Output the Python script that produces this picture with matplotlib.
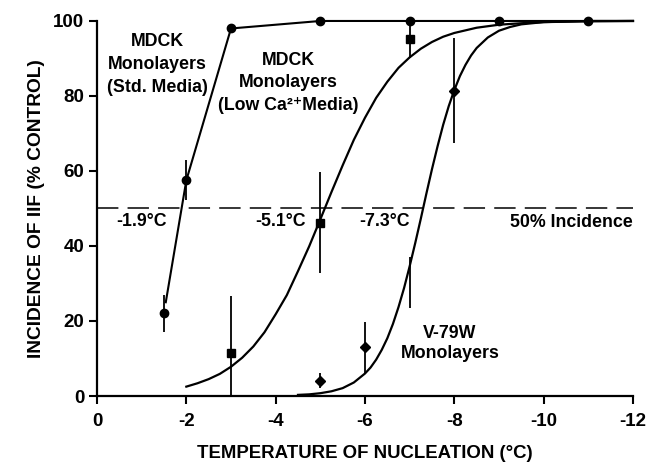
import numpy as np
import matplotlib
matplotlib.use("Agg")
import matplotlib.pyplot as plt

plt.rcParams['font.family'] = ['Liberation Sans', 'DejaVu Sans']
plt.rcParams['font.weight'] = 'bold'
plt.rcParams['axes.labelweight'] = 'bold'
plt.rcParams['axes.unicode_minus'] = False

# MDCK monolayers, standard media (circles)
std_x = [-1.5, -2, -3, -5, -7, -9, -11]
std_y = [22, 57.5, 98, 100, 100, 100, 100]
std_lo = [17, 52.3, 98, 100, 100, 100, 100]
std_hi = [27, 62.9, 98, 100, 100, 100, 100]
std_line_x = [-1.54, -2, -3, -5, -12]
std_line_y = [25, 57.5, 98, 100, 100]

# MDCK monolayers, low Ca2+ media (squares)
lowca_x = [-3, -5, -7]
lowca_y = [11.6, 46.2, 95.1]
lowca_lo = [0, 32.7, 90.1]
lowca_hi = [26.7, 59.8, 100]
lowca_curve_x = [-2, -2.25, -2.5, -2.75, -3, -3.25, -3.5, -3.75, -4, -4.25,
                 -4.5, -4.75, -5, -5.25, -5.5, -5.75, -6, -6.25, -6.5, -6.75,
                 -7, -7.25, -7.5, -7.75, -8, -8.5, -9, -9.5, -10, -10.5, -11,
                 -11.5, -12]
lowca_curve_y = [2.5, 3.4, 4.5, 5.9, 7.8, 10.2, 13.2, 17.0, 21.8, 26.9,
                 33.3, 39.9, 47.1, 54.4, 61.5, 68.3, 74.2, 79.5, 83.8, 87.5,
                 90.3, 92.6, 94.4, 95.8, 96.8, 98.2, 99.0, 99.4, 99.7, 99.8,
                 99.9, 99.95, 100]

# V-79W monolayers (diamonds); the -7 point shows only its error bar
v79_x = [-5, -6, -8]
v79_y = [4.0, 13.2, 81.4]
v79_bar_x = [-5, -6, -7, -8]
v79_lo = [2.1, 6.0, 23.5, 67.4]
v79_hi = [6.1, 19.8, 37, 95.4]
v79_curve_x = [-4.5, -4.75, -5, -5.25, -5.5, -5.75, -6, -6.125, -6.25, -6.375,
               -6.5, -6.625, -6.75, -6.875, -7, -7.125, -7.25, -7.375, -7.5,
               -7.625, -7.75, -7.875, -8, -8.125, -8.25, -8.375, -8.5, -8.75,
               -9, -9.25, -9.5, -10, -11, -12]
v79_curve_y = [0.3, 0.44, 0.75, 1.26, 2.1, 3.6, 6.0, 7.6, 9.7, 12.3,
               15.4, 19.2, 23.7, 28.8, 34.6, 40.8, 47.3, 54.0, 60.5,
               66.6, 72.3, 77.3, 81.6, 85.3, 88.3, 90.8, 92.8, 95.6,
               97.4, 98.4, 99.1, 99.7, 100, 100]

x_ticks = [0, -2, -4, -6, -8, -10, -12]
y_ticks = [0, 20, 40, 60, 80, 100]

fig = plt.figure(figsize=(6.58, 4.66), dpi=100)
ax = fig.add_axes([0.1474, 0.1502, 0.8146, 0.8048])

ax.axhline(50, color='black', lw=1.1, dashes=(14, 6))

ax.plot(std_line_x, std_line_y, color='black', lw=1.5, clip_on=False)
ax.plot(lowca_curve_x, lowca_curve_y, color='black', lw=1.6, clip_on=False)
ax.plot(v79_curve_x, v79_curve_y, color='black', lw=1.6, clip_on=False)

ax.vlines(std_x, std_lo, std_hi, color='black', lw=1.3)
ax.vlines(lowca_x, lowca_lo, lowca_hi, color='black', lw=1.3)
ax.vlines(v79_bar_x, v79_lo, v79_hi, color='black', lw=1.3)

ax.plot(std_x, std_y, 'o', color='black', ms=6, clip_on=False)
ax.plot(lowca_x, lowca_y, 's', color='black', ms=5.5, clip_on=False)
ax.plot(v79_x, v79_y, 'D', color='black', ms=5.5, clip_on=False)

ax.set_xlim(0, -12)
ax.set_ylim(0, 100)
ax.set_xticks(x_ticks)
ax.set_yticks(y_ticks)
ax.tick_params(direction='out', length=6, width=1.5, labelsize=13.5)
ax.tick_params(axis='x', pad=6)
ax.tick_params(axis='y', pad=3)
for side in ['top', 'right']:
    ax.spines[side].set_visible(False)
for side in ['left', 'bottom']:
    ax.spines[side].set_linewidth(1.6)

ax.set_xlabel('TEMPERATURE OF NUCLEATION (°C)', fontsize=13.4, labelpad=11)
ax.set_ylabel('INCIDENCE OF IIF (% CONTROL)', fontsize=13.8, labelpad=6)

fs = 12.8
ax.text(-1.35, 88.4, 'MDCK\nMonolayers\n(Std. Media)', ha='center', va='center',
        fontsize=fs, linespacing=1.45)
ax.text(-4.28, 83.5, 'MDCK\nMonolayers\n(Low Ca²⁺Media)', ha='center',
        va='center', fontsize=fs, linespacing=1.45)
ax.text(-7.9, 14.0, 'V-79W\nMonolayers', ha='center', va='center',
        fontsize=fs, linespacing=1.2)
ax.text(-1.0, 46.4, '-1.9°C', ha='center', va='center', fontsize=fs)
ax.text(-4.1, 46.4, '-5.1°C', ha='center', va='center', fontsize=fs)
ax.text(-6.43, 46.4, '-7.3°C', ha='center', va='center', fontsize=fs)
ax.text(-12, 46.2, '50% Incidence', ha='right', va='center', fontsize=fs)

fig.savefig('out.png', dpi=100)
